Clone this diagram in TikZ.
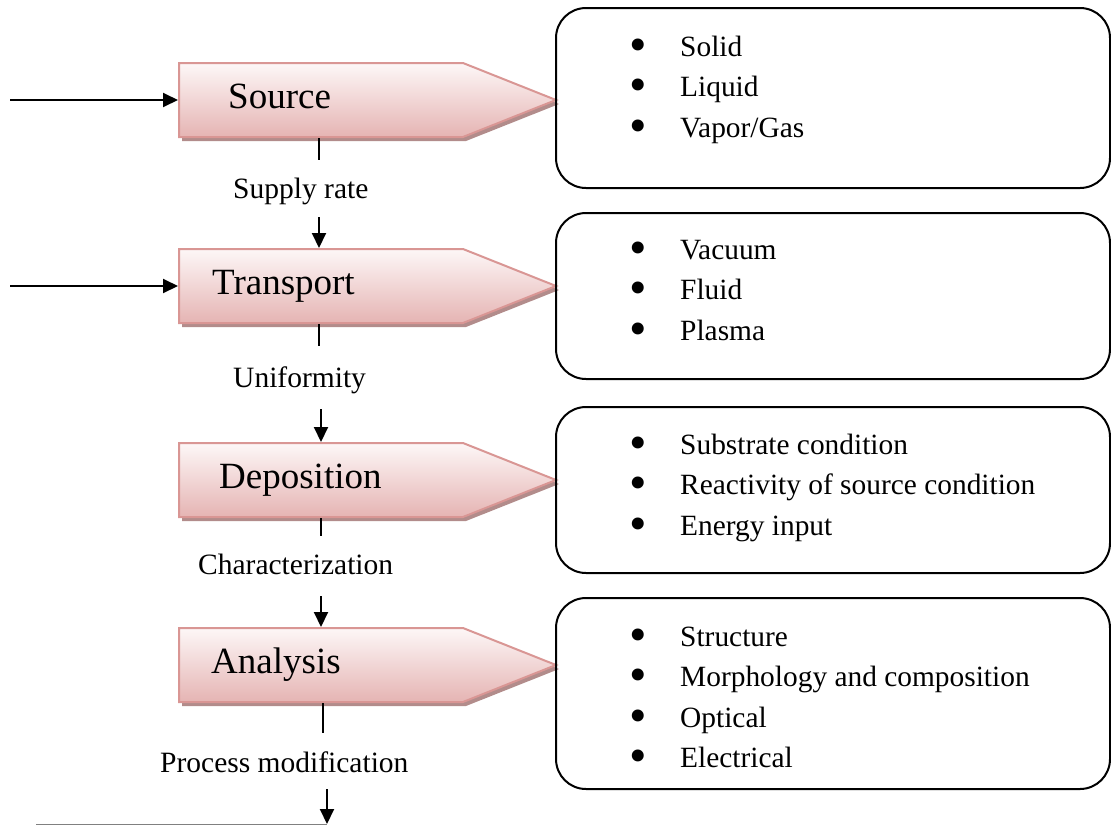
\documentclass[tikz,border=0pt]{standalone}
\usepackage{fontspec}
\setmainfont{Liberation Serif}
\usetikzlibrary{shapes.symbols,shadows,arrows.meta}

\definecolor{stagetop}{RGB}{253,247,247}
\definecolor{stagebot}{RGB}{229,180,179}
\definecolor{stageline}{RGB}{217,150,148}
\definecolor{stageshade}{RGB}{178,140,139}

\tikzset{
  stage/.style={signal,signal to=east,signal from=nowhere,signal pointer angle=43.4,
    minimum width=377pt,minimum height=74pt,inner sep=0pt,anchor=west,
    top color=stagetop,bottom color=stagebot,draw=stageline,line width=2pt,
    general shadow={shadow xshift=3pt,shadow yshift=-4pt,fill=stageshade}},
  stagename/.style={font=\fontsize{37}{44}\selectfont,inner sep=0pt,anchor=base west},
  steplabel/.style={font=\fontsize{29.5}{36}\selectfont,inner sep=0pt,anchor=base west},
  infobox/.style={draw,line width=2pt,rounded corners=30pt,minimum width=554pt,
    anchor=north west,inner sep=0pt},
  infolist/.style={font=\fontsize{29.4}{40.5}\selectfont,inner sep=0pt,anchor=base west},
  flow/.style={line width=2pt,-{Triangle[length=15pt,width=14pt]}},
  link/.style={line width=1.6pt}
}
\newcommand{\itm}{\makebox[20pt]{\smash{\raisebox{-5pt}{\scalebox{1.7}{\textbullet}}}}&}
\newcommand{\bulletlist}[1]{\begin{tabular}[t]{@{}l@{\hspace{32pt}}l@{}}#1\end{tabular}}

\begin{document}
\begin{tikzpicture}[x=1pt,y=-1pt]
\useasboundingbox (0,0) rectangle (1111,825);

\node[stage] (src) at (178,100) {};
\node[stage] (trn) at (178,286) {};
\node[stage] (dep) at (178,480) {};
\node[stage] (ana) at (178,665) {};

\node[stagename] (srcname) at (228,108) {Source};
\node[stagename] (trnname) at (212,294) {Transport};
\node[stagename] (depname) at (219,488) {Deposition};
\node[stagename] (ananame) at (211,673) {Analysis};

\coordinate (srcin) at (10,100);
\coordinate (trnin) at (10,286);
\draw[flow] (srcin) -- (src.west);
\draw[flow] (trnin) -- (trn.west);

\draw[link] ([xshift=141pt]src.south west) -- ++(0,22);
\node[steplabel] (rate) at (233,198) {Supply rate};
\draw[flow] ([xshift=141pt,yshift=31pt]trn.north west) -- ([xshift=141pt]trn.north west);

\draw[link] ([xshift=141pt]trn.south west) -- ++(0,22);
\node[steplabel] (unif) at (233,387) {Uniformity};
\draw[flow] ([xshift=143pt,yshift=33pt]dep.north west) -- ([xshift=143pt]dep.north west);

\draw[link] ([xshift=143pt]dep.south west) -- ++(0,18);
\node[steplabel] (char) at (198,574) {Characterization};
\draw[flow] ([xshift=143pt,yshift=31pt]ana.north west) -- ([xshift=143pt]ana.north west);

\draw[link] ([xshift=145pt]ana.south west) -- ++(0,30);
\node[steplabel] (modif) at (160,772) {Process modification};
\coordinate (outtop) at (327,789);
\coordinate (outend) at (327,824);
\coordinate (baseend) at (36,824);
\draw[flow] (outtop) -- (outend);
\draw[gray,line width=1pt] (baseend) -- (outend);

\node[infobox,minimum height=180pt] (srcinfo) at (555,7) {};
\node[infobox,minimum height=166pt] (trninfo) at (555,212) {};
\node[infobox,minimum height=166pt] (depinfo) at (555,406) {};
\node[infobox,minimum height=191pt] (anainfo) at (555,597) {};

\node[infolist] (srclist) at (628,56) {\bulletlist{\itm Solid\\ \itm Liquid\\ \itm Vapor/Gas}};
\node[infolist] (trnlist) at (628,259) {\bulletlist{\itm Vacuum\\ \itm Fluid\\ \itm Plasma}};
\node[infolist] (deplist) at (628,454) {\bulletlist{\itm Substrate condition\\ \itm Reactivity of source condition\\ \itm Energy input}};
\node[infolist] (analist) at (628,646) {\bulletlist{\itm Structure\\ \itm Morphology and composition\\ \itm Optical\\ \itm Electrical}};

\end{tikzpicture}
\end{document}
